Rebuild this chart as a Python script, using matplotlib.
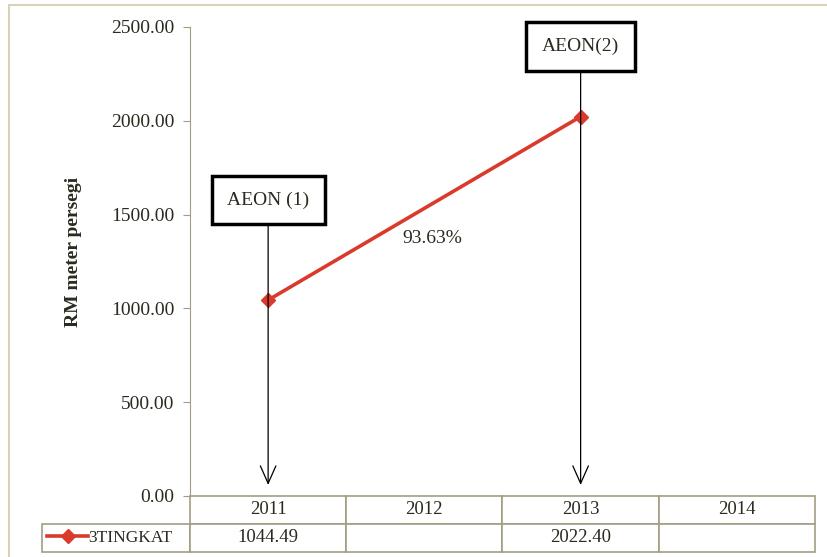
import matplotlib
matplotlib.use("Agg")
import matplotlib.pyplot as plt
from matplotlib.lines import Line2D
from matplotlib.patches import Rectangle

# data
years = ["2011", "2012", "2013", "2014"]
series_name = "3TINGKAT"
x_idx = [0, 2]
values = [1044.49, 2022.40]
value_labels = ["1044.49", "", "2022.40", ""]
growth_label = "93.63%"
notes = ["AEON (1)", "AEON(2)"]
note_y = [1578, 2396]

plt.rcParams["font.family"] = ["Liberation Serif", "DejaVu Serif"]
txt = "#2b2a1f"
edge = "#a39d84"
red = "#d93a2b"

fig = plt.figure(figsize=(8.28, 5.57), dpi=100)
W, H = 828, 557
ax_w, ax_h = 625, 469
ax = fig.add_axes([190 / W, 1 - 496 / H, ax_w / W, ax_h / H])

# outer frame
fig.patches.append(Rectangle((9 / W, -5 / H), 830 / W, 557 / H, transform=fig.transFigure,
                             fill=False, edgecolor="#d9d2b6", lw=1.5))

ax.plot(x_idx, values, color=red, lw=2.6, marker="D", ms=7, zorder=3)

ax.set_xlim(-0.5, 3.5)
ax.set_ylim(0, 2500)
ax.set_yticks([0, 500, 1000, 1500, 2000, 2500])
ax.set_yticklabels(["%.2f" % v for v in ax.get_yticks()], fontsize=14, color=txt)
ax.set_xticks([])
ax.tick_params(axis="y", direction="out", length=5, color=edge, pad=6)
for s in ["top", "right", "bottom"]:
    ax.spines[s].set_visible(False)
ax.spines["left"].set_color(edge)
ax.set_ylabel("RM meter persegi", fontsize=14, fontweight="bold", color=txt)
ax.yaxis.set_label_coords((82 - 190) / ax_w, 0.52)

# annotations with arrows
for xi, label, ny in zip(x_idx, notes, note_y):
    ax.annotate(label, xy=(xi, 59), xytext=(xi, ny), fontsize=14, color=txt,
                ha="center", va="center",
                bbox=dict(boxstyle="square,pad=0.8", fc="white", ec="black", lw=2.5),
                arrowprops=dict(arrowstyle="->,head_length=0.9,head_width=0.4",
                                color="black", lw=0.9, shrinkA=0, shrinkB=0))

ax.text(1.05, 1370, growth_label, fontsize=14, color=txt, ha="center", va="center")

# data table under the axes
cell_text = [[""] + years, [series_name] + value_labels]
key_w = 148 / ax_w
tb = ax.table(cellText=cell_text, colWidths=[key_w] + [0.25] * 4,
              bbox=[-key_w, -56 / ax_h, 1 + key_w, 56 / ax_h], cellLoc="center")
tb.auto_set_font_size(False)
for (r, c), cell in tb.get_celld().items():
    cell.set_edgecolor(edge)
    cell.set_linewidth(1.2)
    cell.get_text().set_fontsize(13.5)
    cell.get_text().set_color(txt)
    if r == 0 and c == 0:
        cell.visible_edges = ""
    if r == 1 and c == 0:
        cell.get_text().set_fontsize(12.5)
        cell.get_text().set_ha("left")
        cell._loc = "left"
        cell.PAD = 0.31

# legend key in the table
ky = 1 - 536 / H
fig.add_artist(Line2D([47 / W, 88 / W], [ky, ky], color=red, lw=2.6))
fig.add_artist(Line2D([68 / W], [ky], color=red, marker="D", ms=7, lw=0))

fig.savefig("out.png", dpi=100)
